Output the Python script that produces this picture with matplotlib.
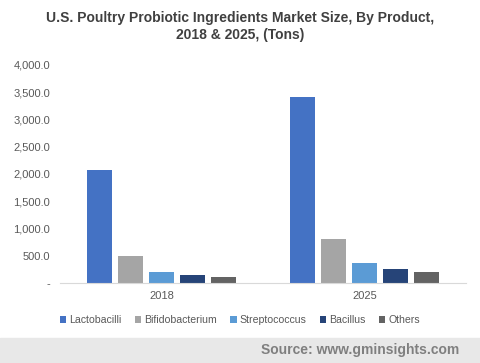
import numpy as np
import matplotlib
matplotlib.use("Agg")
import matplotlib.pyplot as plt
from matplotlib.ticker import FuncFormatter
from matplotlib.patches import Rectangle

# data
years = ["2018", "2025"]
products = ["Lactobacilli", "Bifidobacterium", "Streptococcus", "Bacillus", "Others"]
lactobacilli = [2070, 3410]
bifidobacterium = [500, 810]
streptococcus = [200, 365]
bacillus = [150, 255]
others = [110, 200]
colors = ["#4472C4", "#A5A5A5", "#5B9BD5", "#264478", "#636363"]

plt.rcParams["font.family"] = ["Liberation Sans", "DejaVu Sans"]

fig = plt.figure(figsize=(4.8, 3.63), dpi=100)
ax = fig.add_axes([0.125, 0.2204, 0.846, 0.6006])

series = [lactobacilli, bifidobacterium, streptococcus, bacillus, others]
x = np.arange(len(years))
step = 0.153
width = 0.123
for i, (vals, name, c) in enumerate(zip(series, products, colors)):
    ax.bar(x + (i - 2) * step, vals, width, color=c, label=name)

ax.set_xlim(-0.5, 1.5)
ax.set_ylim(0, 4000)
ax.set_yticks(np.arange(0, 4001, 500))
ax.yaxis.set_major_formatter(FuncFormatter(lambda v, p: "-" if v == 0 else f"{v:,.1f}"))
ax.set_xticks(x)
ax.set_xticklabels(years)
ax.tick_params(axis="both", length=0, labelsize=8, colors="#595959")
ax.tick_params(axis="y", pad=7)
ax.tick_params(axis="x", pad=6)
for s in ["top", "right", "left"]:
    ax.spines[s].set_visible(False)
ax.spines["bottom"].set_color("#D9D9D9")

fig.text(0.5, 0.928, "U.S. Poultry Probiotic Ingredients Market Size, By Product,\n2018 & 2025, (Tons)",
         ha="center", va="center", fontsize=10, fontweight="bold", color="#404040", linespacing=1.25)

leg = fig.legend(loc="center", bbox_to_anchor=(0.5, 0.118), ncol=5, frameon=False,
                 fontsize=7.6, handlelength=0.6, handleheight=0.6, handletextpad=0.3,
                 columnspacing=1.25, labelcolor="#595959")

# source strip
fig.patches.append(Rectangle((0, 0), 1, 25 / 363, transform=fig.transFigure,
                             color="#E8E8E8", zorder=0))
fig.text(0.956, 0.036, "Source: www.gminsights.com", ha="right", va="center",
         fontsize=10, fontweight="bold", color="#7F7F7F")

fig.savefig("out.png", dpi=100)
